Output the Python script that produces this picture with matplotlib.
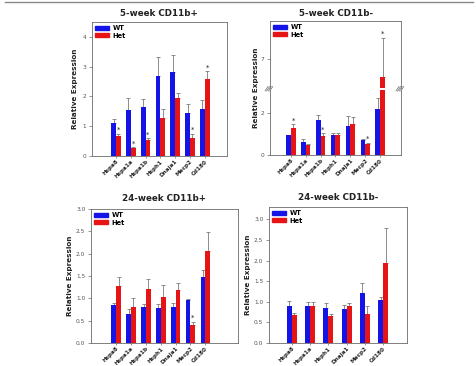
import matplotlib
matplotlib.use('Agg')
import matplotlib.pyplot as plt
from matplotlib.lines import Line2D
from matplotlib.patches import Patch
import numpy as np

W, H = 477, 366
fig = plt.figure(figsize=(4.77, 3.66), dpi=100)

BLUE = '#1414e6'
RED = '#e61414'
ECOL = '#7a7a7a'
SPC = '#6a6a6a'

genes7 = ['Hspa8', 'Hspa1a', 'Hspa1b', 'Hsph1', 'Dnaja1', 'Mecp2', 'Cd180']
genes6 = ['Hspa8', 'Hspa1a', 'Hsph1', 'Dnaja1', 'Mecp2', 'Cd180']

w5p_wt = [1.11, 1.55, 1.64, 2.69, 2.83, 1.46, 1.57]
w5p_wt_err = [0.12, 0.40, 0.26, 0.65, 0.55, 0.27, 0.30]
w5p_het = [0.66, 0.27, 0.55, 1.29, 1.94, 0.62, 2.59]
w5p_het_err = [0.09, 0.03, 0.05, 0.28, 0.19, 0.13, 0.26]
w5p_star = [1, 1, 1, 0, 0, 1, 1]

w5m_wt = [0.96, 0.64, 1.68, 0.96, 1.41, 0.72, 2.21]
w5m_wt_err = [0.02, 0.11, 0.23, 0.11, 0.46, 0.06, 0.54]
w5m_het = [1.28, 0.48, 0.91, 0.96, 1.49, 0.51, 5.76]
w5m_het_err = [0.20, 0.03, 0.13, 0.09, 0.32, 0.09, 2.74]
w5m_star = [1, 0, 1, 0, 0, 1, 1]

w24p_wt = [0.84, 0.65, 0.81, 0.78, 0.81, 0.96, 1.48]
w24p_wt_err = [0.05, 0.11, 0.06, 0.09, 0.08, 0.02, 0.15]
w24p_het = [1.27, 0.81, 1.21, 1.04, 1.19, 0.41, 2.06]
w24p_het_err = [0.20, 0.19, 0.22, 0.26, 0.16, 0.07, 0.42]
w24p_star = [0, 0, 0, 0, 0, 1, 0]

w24m_wt = [0.90, 0.90, 0.85, 0.83, 1.21, 1.04]
w24m_wt_err = [0.12, 0.10, 0.11, 0.09, 0.25, 0.08]
w24m_het = [0.67, 0.89, 0.65, 0.89, 0.70, 1.95]
w24m_het_err = [0.06, 0.11, 0.06, 0.09, 0.19, 0.85]
w24m_star = [0, 0, 0, 0, 0, 0]


def px_axes(l, t, r, b):
    return fig.add_axes([l / W, 1 - b / H, (r - l) / W, (b - t) / H])


def style(ax, xt=True):
    for s in ax.spines.values():
        s.set_color(SPC)
        s.set_linewidth(0.6)
    ax.tick_params(axis='y', length=2, width=0.5, colors=SPC, labelsize=4.2,
                   labelcolor='#555555', pad=2)
    ax.tick_params(axis='x', length=1.5, width=0.5, colors=SPC, labelsize=4.1,
                   labelcolor='#222222', pad=0.5)


def draw(ax, genes, wt, wte, het, hete, stars, bw, ylo=None, yhi=None):
    n = len(genes)
    x = np.arange(n)
    ax.bar(x - bw / 2, wt, bw, color=BLUE, zorder=2)
    ax.bar(x + bw / 2, het, bw, color=RED, zorder=2)
    ax.errorbar(x - bw / 2, wt, yerr=[np.zeros(n), wte], fmt='none', ecolor=ECOL,
                elinewidth=0.6, capsize=1.3, capthick=0.6, zorder=1)
    ax.errorbar(x + bw / 2, het, yerr=[np.zeros(n), hete], fmt='none', ecolor=ECOL,
                elinewidth=0.6, capsize=1.3, capthick=0.6, zorder=1)
    for i in range(n):
        if stars[i]:
            yy = het[i] + hete[i]
            if ylo is not None and not (ylo <= yy <= yhi):
                continue
            ax.annotate('*', (x[i] + bw / 2, yy), xytext=(0, 0.3),
                        textcoords='offset points', ha='center', va='bottom',
                        fontsize=5, color='#222222')
    ax.set_xticks(x)
    ax.set_xticklabels(genes, rotation=45, ha='right', rotation_mode='anchor',
                       fontweight='bold')


def legend(ax):
    ax.legend(handles=[Patch(color=BLUE, label='WT'), Patch(color=RED, label='Het')],
              loc='upper left', frameon=False, prop={'size': 4.8, 'weight': 'bold'},
              handlelength=2.1, handleheight=0.6, borderaxespad=0.25, borderpad=0.2,
              labelspacing=0.25, handletextpad=0.5)


# top-left: 5-week CD11b+
ax1 = px_axes(92, 22, 227, 156)
draw(ax1, genes7, w5p_wt, w5p_wt_err, w5p_het, w5p_het_err, w5p_star, 0.32)
ax1.set_xlim(-1.62, 7.5)
ax1.set_ylim(0, 4.5)
ax1.set_yticks([0, 1, 2, 3, 4])
style(ax1)
legend(ax1)

# top-right: 5-week CD11b- (broken axis)
ax2u = px_axes(270, 21, 401, 87.5)
ax2l = px_axes(270, 89.5, 401, 155)
for a, lo, hi in [(ax2l, 0, 3.15), (ax2u, 5.05, 9.65)]:
    draw(a, genes7, w5m_wt, w5m_wt_err, w5m_het, w5m_het_err, w5m_star, 0.32, lo, hi)
    a.set_xlim(-1.4, 7.4)
    a.set_ylim(lo, hi)
    style(a)
ax2l.set_yticks([0, 2])
ax2u.set_yticks([7])
ax2l.spines['top'].set_visible(False)
ax2u.spines['bottom'].set_visible(False)
ax2u.tick_params(axis='x', which='both', bottom=False, labelbottom=False)
legend(ax2u)
# break marks
for xb in (270, 401):
    for k in range(4):
        x0 = xb - 5 + k * 1.6
        fig.add_artist(Line2D([x0 / W, (x0 + 3) / W], [1 - 91 / H, 1 - 86.5 / H],
                              color=SPC, lw=0.5))

# bottom-left: 24-week CD11b+
ax3 = px_axes(91, 209, 238, 343)
draw(ax3, genes7, w24p_wt, w24p_wt_err, w24p_het, w24p_het_err, w24p_star, 0.32)
ax3.set_xlim(-1.7, 8.2)
ax3.set_ylim(0, 3.0)
ax3.set_yticks([0, 0.5, 1.0, 1.5, 2.0, 2.5, 3.0])
ax3.set_yticklabels(['0.0', '0.5', '1.0', '1.5', '2.0', '2.5', '3.0'])
style(ax3)
legend(ax3)

# bottom-right: 24-week CD11b-
ax4 = px_axes(269, 207, 407, 343)
draw(ax4, genes6, w24m_wt, w24m_wt_err, w24m_het, w24m_het_err, w24m_star, 0.27)
ax4.set_xlim(-1.25, 6.3)
ax4.set_ylim(0, 3.3)
ax4.set_yticks([0, 0.5, 1.0, 1.5, 2.0, 2.5, 3.0])
ax4.set_yticklabels(['0.0', '0.5', '1.0', '1.5', '2.0', '2.5', '3.0'])
style(ax4)
legend(ax4)

# titles
for (xc, yc, t) in [(159, 14, '5-week CD11b+'), (336, 13, '5-week CD11b-'),
                    (164, 198, '24-week CD11b+'), (338, 197, '24-week CD11b-')]:
    fig.text(xc / W, 1 - yc / H, t, ha='center', va='center', fontsize=6.3,
             fontweight='bold', color='#222222')

# y labels
for (xc, yc) in [(75, 89), (256, 88), (70, 276), (248, 275)]:
    fig.text(xc / W, 1 - yc / H, 'Relative Expression', ha='center', va='center',
             rotation=90, fontsize=5.2, fontweight='bold', color='#222222')

# top border line
fig.add_artist(Line2D([5 / W, 473 / W], [1 - 2 / H, 1 - 2 / H], color='#888888', lw=1))

fig.savefig('out.png', dpi=100)
